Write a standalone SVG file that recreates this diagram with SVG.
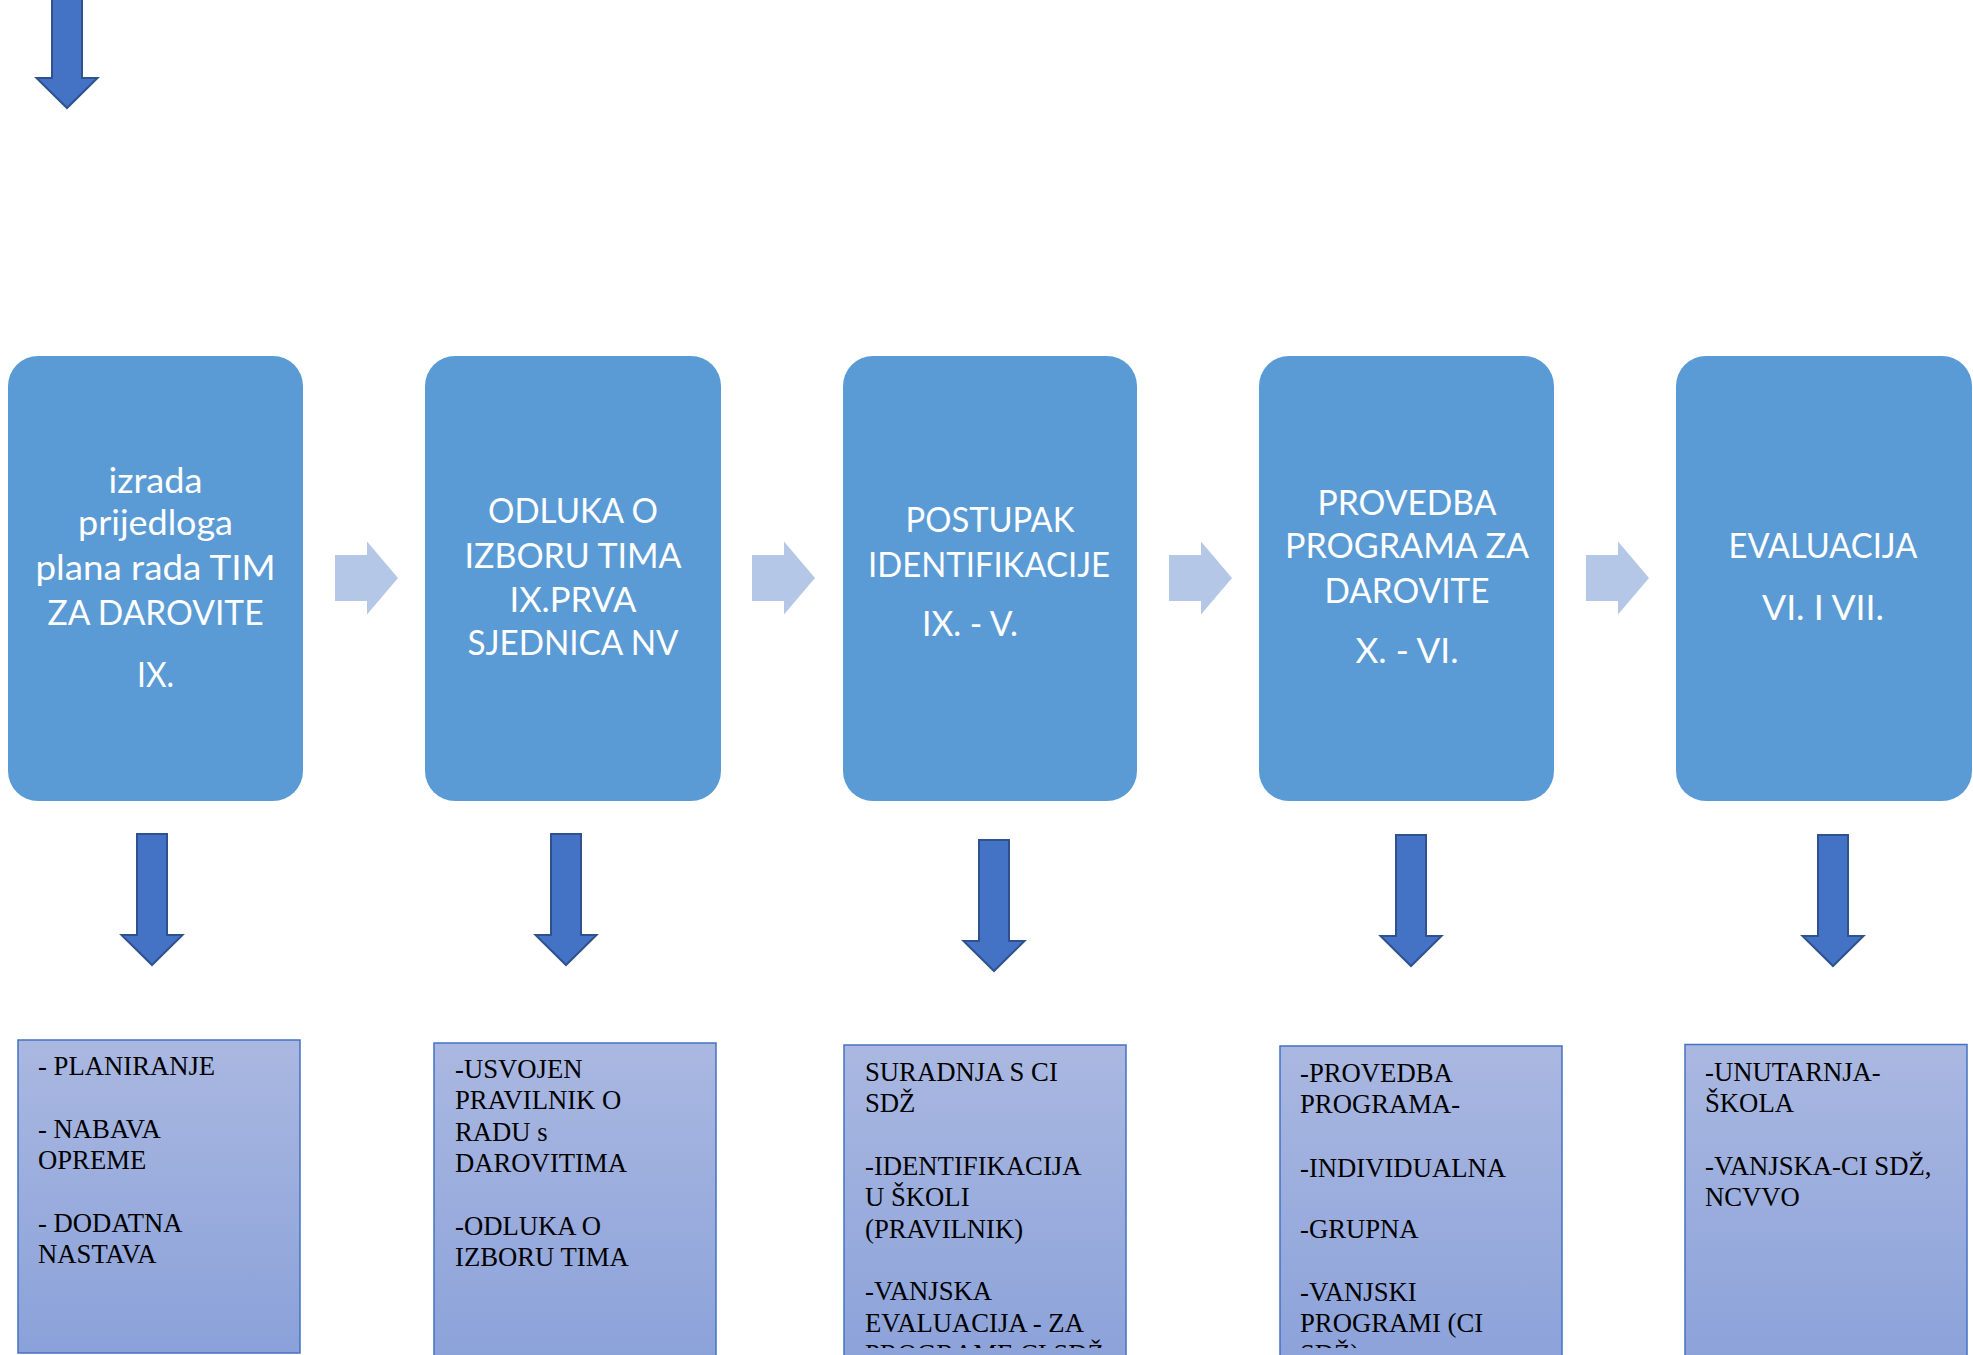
<svg xmlns="http://www.w3.org/2000/svg" width="1973" height="1355" viewBox="0 0 1973 1355">
  <style>
    .step { fill: #5B9BD5; }
    .stepText { font-family: Lato, "Open Sans", sans-serif; font-size: 34.5px; fill: #FFFFFF; text-anchor: middle; }
    .detail { fill: url(#detailGrad); stroke: #4472C4; stroke-width: 1.5; }
    .detailText { font-family: "Liberation Serif", "Times New Roman", serif; font-size: 26.7px; fill: #000000; }
    .down { fill: #4472C4; stroke: #2F528F; stroke-width: 2; stroke-linejoin: miter; }
    .right { fill: #B4C7E7; }
  </style>
  <defs>
    <linearGradient id="detailGrad" x1="0" y1="0" x2="0" y2="1">
      <stop offset="0" stop-color="#AAB8E1"/>
      <stop offset="1" stop-color="#8AA1D9"/>
    </linearGradient>
    <path id="downArrow" d="M-15,0 H15 V101 H30.5 L0,131 L-30.5,101 H-15 Z"/>
    <path id="rightArrow" d="M0,-23 H32 V-36.5 L63,0 L32,36.5 V23 H0 Z"/>
    <clipPath id="textClip">
      <rect x="0" y="0" width="1973" height="1348"/>
    </clipPath>
  </defs>

  <g id="connectors">
    <use href="#downArrow" class="down" transform="translate(67,-23)"/>
    <use href="#rightArrow" class="right" transform="translate(335,578)"/>
    <use href="#rightArrow" class="right" transform="translate(752,578)"/>
    <use href="#rightArrow" class="right" transform="translate(1169,578)"/>
    <use href="#rightArrow" class="right" transform="translate(1586,578)"/>
    <use href="#downArrow" class="down" transform="translate(152,834)"/>
    <use href="#downArrow" class="down" transform="translate(566,834)"/>
    <use href="#downArrow" class="down" transform="translate(994,840)"/>
    <use href="#downArrow" class="down" transform="translate(1411,835)"/>
    <use href="#downArrow" class="down" transform="translate(1833,835)"/>
  </g>

  <g id="step1">
    <rect class="step" x="8" y="356" width="295" height="445" rx="30" ry="30"/>
    <text class="stepText" x="155.5" y="493" textLength="94" lengthAdjust="spacingAndGlyphs">izrada</text>
    <text class="stepText" x="155.5" y="535" textLength="155" lengthAdjust="spacingAndGlyphs">prijedloga</text>
    <text class="stepText" x="155.5" y="580" textLength="240" lengthAdjust="spacingAndGlyphs">plana rada TIM</text>
    <text class="stepText" x="155.5" y="625" textLength="216" lengthAdjust="spacingAndGlyphs">ZA DAROVITE</text>
    <text class="stepText" x="155.5" y="687" textLength="37" lengthAdjust="spacingAndGlyphs">IX.</text>
  </g>

  <g id="step2">
    <rect class="step" x="425" y="356" width="296" height="445" rx="30" ry="30"/>
    <text class="stepText" x="573" y="523" textLength="170" lengthAdjust="spacingAndGlyphs">ODLUKA O</text>
    <text class="stepText" x="573" y="568" textLength="217" lengthAdjust="spacingAndGlyphs">IZBORU TIMA</text>
    <text class="stepText" x="573" y="612" textLength="127" lengthAdjust="spacingAndGlyphs">IX.PRVA</text>
    <text class="stepText" x="573" y="655" textLength="211" lengthAdjust="spacingAndGlyphs">SJEDNICA NV</text>
  </g>

  <g id="step3">
    <rect class="step" x="843" y="356" width="294" height="445" rx="30" ry="30"/>
    <text class="stepText" x="990" y="532" textLength="169" lengthAdjust="spacingAndGlyphs">POSTUPAK</text>
    <text class="stepText" x="989" y="577" textLength="242" lengthAdjust="spacingAndGlyphs">IDENTIFIKACIJE</text>
    <text class="stepText" x="970" y="636" textLength="96" lengthAdjust="spacingAndGlyphs">IX. - V.</text>
  </g>

  <g id="step4">
    <rect class="step" x="1259" y="356" width="295" height="445" rx="30" ry="30"/>
    <text class="stepText" x="1407" y="515" textLength="179" lengthAdjust="spacingAndGlyphs">PROVEDBA</text>
    <text class="stepText" x="1407" y="558" textLength="244" lengthAdjust="spacingAndGlyphs">PROGRAMA ZA</text>
    <text class="stepText" x="1407" y="603" textLength="165" lengthAdjust="spacingAndGlyphs">DAROVITE</text>
    <text class="stepText" x="1407" y="663" textLength="103" lengthAdjust="spacingAndGlyphs">X. - VI.</text>
  </g>

  <g id="step5">
    <rect class="step" x="1676" y="356" width="296" height="445" rx="30" ry="30"/>
    <text class="stepText" x="1823" y="558" textLength="189" lengthAdjust="spacingAndGlyphs">EVALUACIJA</text>
    <text class="stepText" x="1823" y="620" textLength="122" lengthAdjust="spacingAndGlyphs">VI. I VII.</text>
  </g>

  <g id="detail1">
    <rect class="detail" x="18" y="1040" width="282" height="313"/>
    <text class="detailText">
      <tspan x="38" y="1075">- PLANIRANJE</tspan>
      <tspan x="38" y="1138">- NABAVA</tspan>
      <tspan x="38" y="1169">OPREME</tspan>
      <tspan x="38" y="1232">- DODATNA</tspan>
      <tspan x="38" y="1263">NASTAVA</tspan>
    </text>
  </g>

  <g id="detail2">
    <rect class="detail" x="434" y="1043" width="282" height="330"/>
    <text class="detailText">
      <tspan x="455" y="1078">-USVOJEN</tspan>
      <tspan x="455" y="1109">PRAVILNIK O</tspan>
      <tspan x="455" y="1140.5">RADU s</tspan>
      <tspan x="455" y="1171.5">DAROVITIMA</tspan>
      <tspan x="455" y="1234.5">-ODLUKA O</tspan>
      <tspan x="455" y="1266">IZBORU TIMA</tspan>
    </text>
  </g>

  <g id="detail3">
    <rect class="detail" x="844" y="1045" width="282" height="330"/>
    <text class="detailText" clip-path="url(#textClip)">
      <tspan x="865" y="1081">SURADNJA S CI</tspan>
      <tspan x="865" y="1112">SDŽ</tspan>
      <tspan x="865" y="1175">-IDENTIFIKACIJA</tspan>
      <tspan x="865" y="1206">U ŠKOLI</tspan>
      <tspan x="865" y="1238">(PRAVILNIK)</tspan>
      <tspan x="865" y="1300">-VANJSKA</tspan>
      <tspan x="865" y="1332">EVALUACIJA - ZA</tspan>
      <tspan x="865" y="1363">PROGRAME CI SDŽ</tspan>
    </text>
  </g>

  <g id="detail4">
    <rect class="detail" x="1280" y="1046" width="282" height="330"/>
    <text class="detailText" clip-path="url(#textClip)">
      <tspan x="1300" y="1082">-PROVEDBA</tspan>
      <tspan x="1300" y="1113">PROGRAMA-</tspan>
      <tspan x="1300" y="1176.5">-INDIVIDUALNA</tspan>
      <tspan x="1300" y="1238">-GRUPNA</tspan>
      <tspan x="1300" y="1301">-VANJSKI</tspan>
      <tspan x="1300" y="1332">PROGRAMI (CI</tspan>
      <tspan x="1300" y="1363">SDŽ)</tspan>
    </text>
  </g>

  <g id="detail5">
    <rect class="detail" x="1685" y="1044.5" width="282" height="330"/>
    <text class="detailText">
      <tspan x="1705" y="1081">-UNUTARNJA-</tspan>
      <tspan x="1705" y="1112">ŠKOLA</tspan>
      <tspan x="1705" y="1175">-VANJSKA-CI SDŽ,</tspan>
      <tspan x="1705" y="1205.5">NCVVO</tspan>
    </text>
  </g>
</svg>
